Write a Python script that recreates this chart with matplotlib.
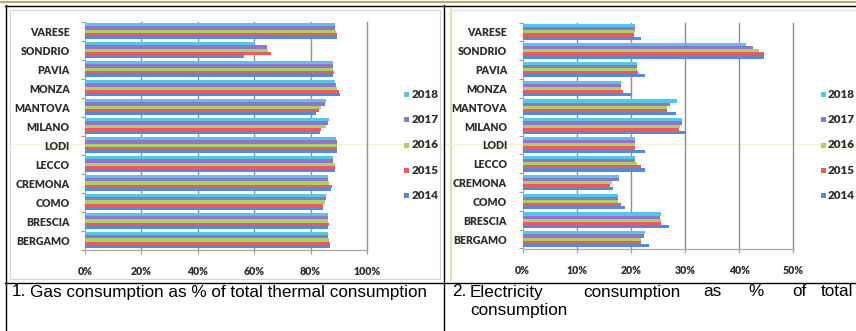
import matplotlib
matplotlib.use("Agg")
import matplotlib.pyplot as plt
from matplotlib.lines import Line2D
from matplotlib.patches import Rectangle
import numpy as np

W, H = 856, 331

provinces = ["BERGAMO", "BRESCIA", "COMO", "CREMONA", "LECCO", "LODI",
             "MILANO", "MANTOVA", "MONZA", "PAVIA", "SONDRIO", "VARESE"]
years = ["2014", "2015", "2016", "2017", "2018"]

# Gas share of total thermal consumption (%)
gas_2014 = [87.0, 86.0, 84.5, 87.3, 88.5, 89.5, 83.2, 81.8, 90.5, 88.0, 56.4, 89.2]
gas_2015 = [86.8, 86.5, 84.5, 87.7, 88.5, 89.5, 83.8, 82.9, 90.0, 88.2, 65.8, 89.2]
gas_2016 = [86.5, 86.0, 85.0, 86.7, 88.5, 89.3, 85.3, 83.8, 89.5, 88.0, 65.0, 89.0]
gas_2017 = [86.0, 86.0, 85.5, 86.0, 88.0, 89.2, 86.0, 85.0, 89.0, 88.0, 64.5, 88.8]
gas_2018 = [86.0, 86.0, 85.5, 86.0, 88.0, 89.0, 86.5, 85.3, 88.5, 88.0, 60.2, 88.5]

# Electricity share of total consumption (%)
ele_2014 = [23.4, 27.1, 19.0, 16.8, 22.7, 22.6, 30.2, 28.4, 20.0, 22.7, 44.6, 21.9]
ele_2015 = [21.8, 25.6, 18.1, 16.2, 21.8, 20.7, 28.9, 26.7, 18.5, 21.4, 44.6, 20.6]
ele_2016 = [21.9, 25.5, 17.6, 16.5, 21.1, 20.7, 29.0, 26.7, 18.2, 21.2, 43.7, 20.7]
ele_2017 = [22.4, 25.3, 17.6, 17.9, 20.8, 20.7, 29.4, 27.3, 18.2, 21.1, 42.6, 20.7]
ele_2018 = [22.7, 25.5, 17.6, 17.9, 20.7, 20.8, 29.5, 28.5, 18.2, 21.1, 41.2, 20.8]

gas_ticks = [0, 20, 40, 60, 80, 100]
ele_ticks = [0, 10, 20, 30, 40, 50]

caption_1 = "Gas consumption as % of total thermal consumption"
caption_2_words = ["Electricity", "consumption", "as", "%", "of", "total"]
caption_2_tail = "consumption"

colors = ["#548ad8", "#ec5a5e", "#a8d266", "#9175cc", "#55c6e8"]

fig = plt.figure(figsize=(W / 100, H / 100), dpi=100)
fig.patch.set_facecolor("white")


def fx(px):
    return px / W


def fy(py):
    return 1 - py / H


def hline(x0, x1, y, **kw):
    fig.add_artist(Line2D([fx(x0), fx(x1)], [fy(y), fy(y)], transform=fig.transFigure, **kw))


def vline(x, y0, y1, **kw):
    fig.add_artist(Line2D([fx(x), fx(x)], [fy(y0), fy(y1)], transform=fig.transFigure, **kw))


# chart-area frames
fig.add_artist(Rectangle((fx(9.5), fy(279)), fx(440) - fx(9.5), fy(9.5) - fy(279),
                         transform=fig.transFigure, fill=False, ec="#d4d4d4", lw=0.8, zorder=0))
vline(451, 9, 280, color="#dcd79c", lw=1.2, zorder=0)
hline(451, 856, 9.5, color="#e2e2e2", lw=0.8, zorder=0)
hline(5, 856, 143.5, color="#f4f2cf", lw=0.8, zorder=0)

# table borders
hline(0, 856, 2.2, color="#b5ae6a", lw=1.6, zorder=5)
hline(5, 856, 5.5, color="black", lw=1.0, zorder=5)
hline(5, 856, 282.5, color="black", lw=1.0, zorder=5)
vline(5.5, 5, 331, color="black", lw=1.0, zorder=5)
vline(443.5, 5, 331, color="black", lw=1.0, zorder=5)

label_font = dict(family="Lato", weight="heavy", size=7.6, color="#2e2e2e")
legend_font = dict(family="Lato", weight="heavy", size=8.4, color="#2e2e2e")


def panel(left, right, top, bottom, series, ticks):
    ax = fig.add_axes([fx(left), fy(bottom), fx(right) - fx(left), fy(top) - fy(bottom)])
    n = len(provinces)
    y = np.arange(n)
    h = 0.165
    for j, vals in enumerate(series):
        ax.barh(y + (j - 2) * h, vals, height=h, color=colors[j], lw=0, zorder=3)
    ax.set_xlim(ticks[0], ticks[-1])
    ax.set_ylim(-0.5, n - 0.5)
    ax.set_xticks(ticks)
    ax.set_xticklabels([f"{t}%" for t in ticks], fontdict=label_font)
    ax.set_yticks(y)
    ax.set_yticklabels(provinces, fontdict=label_font)
    ax.set_yticks(np.arange(n + 1) - 0.5, minor=True)
    ax.tick_params(axis="y", which="major", length=0, pad=11)
    ax.tick_params(axis="y", which="minor", length=3, color="#9a9a9a", width=0.8)
    ax.tick_params(axis="x", length=3, color="#9a9a9a", width=0.8, pad=9)
    for t in ticks[1:]:
        ax.axvline(t, color="#8f8f8f", lw=1.0, zorder=1, clip_on=False)
    for s in ["top", "right"]:
        ax.spines[s].set_visible(False)
    for s in ["left", "bottom"]:
        ax.spines[s].set_color("#a8a8a8")
        ax.spines[s].set_linewidth(0.9)
    ax.set_facecolor("none")
    return ax


panel(85, 367, 21.7, 249.5, [gas_2014, gas_2015, gas_2016, gas_2017, gas_2018], gas_ticks)
panel(522.5, 793.3, 22.5, 248.5, [ele_2014, ele_2015, ele_2016, ele_2017, ele_2018], ele_ticks)

# legends: 2018 on top
leg_y = [94, 119.5, 145, 170.5, 196]
for lx in (406.5, 823.0):
    for k, yr in enumerate(reversed(years)):
        ci = len(years) - 1 - k
        fig.add_artist(Rectangle((fx(lx - 2.5), fy(leg_y[k] + 2.5)), fx(5), fy(0) - fy(5),
                                 transform=fig.transFigure, color=colors[ci], lw=0))
        fig.text(fx(lx + 5), fy(leg_y[k]), yr, ha="left", va="center", **legend_font)

cap_font = dict(family="Liberation Sans", size=12.3, color="black")
fig.text(fx(12), fy(292), "1.", va="center", **cap_font)
fig.text(fx(30), fy(292), caption_1, va="center", **cap_font)
fig.text(fx(452), fy(292), "2.", va="center", **cap_font)
word_x = [470, 583, 703, 748, 792]
for wx, wd in zip(word_x, caption_2_words[:-1]):
    fig.text(fx(wx), fy(292), wd, va="center", **cap_font)
fig.text(fx(853), fy(292), caption_2_words[-1], ha="right", va="center", **cap_font)
fig.text(fx(470), fy(311), caption_2_tail, va="center", **cap_font)

fig.savefig("out.png", dpi=100, facecolor="white")
